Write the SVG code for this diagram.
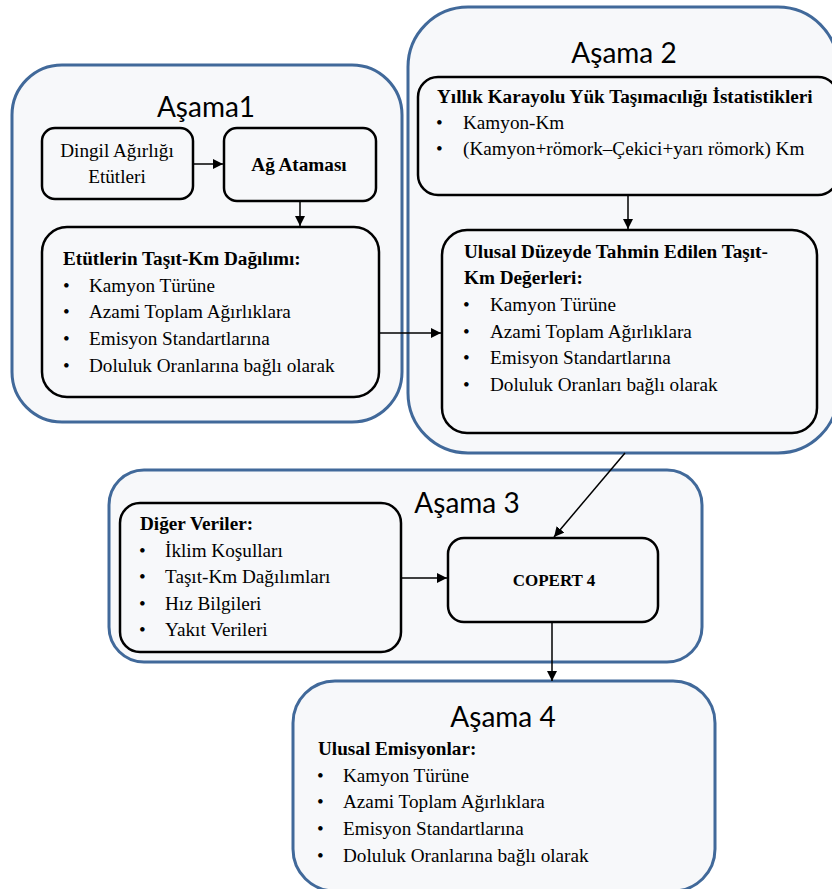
<svg xmlns="http://www.w3.org/2000/svg" width="832" height="889" viewBox="0 0 832 889">
<defs>
<marker id="ah" viewBox="0 0 10 10" refX="10" refY="5" markerWidth="10" markerHeight="10" markerUnits="userSpaceOnUse" orient="auto">
<path d="M0,0 L10,5 L0,10 z" fill="#000"/>
</marker>
<style>
.stage{fill:#F7F8FA;stroke:#41699A;stroke-width:3}
.box{fill:#F7F8FA;stroke:#000;stroke-width:2.5}
.title{font-family:Lato,'Open Sans',sans-serif;font-size:28px;fill:#000}
.t{font-family:'Liberation Serif','DejaVu Serif',serif;font-size:19.2px;fill:#000}
.b{font-family:'Liberation Serif','DejaVu Serif',serif;font-size:19.2px;font-weight:bold;fill:#000}
.conn{stroke:#000;stroke-width:1.5;fill:none;marker-end:url(#ah)}
</style>
</defs>
<g id="stage1">
<rect class="stage" x="12" y="65" width="390" height="357" rx="50"/>
<text class="title" x="206" y="117" text-anchor="middle">Aşama1</text>
</g>
<g id="stage2">
<rect class="stage" x="408" y="7" width="430" height="446" rx="60"/>
<text class="title" x="624" y="63" text-anchor="middle">Aşama 2</text>
</g>
<g id="stage3">
<rect class="stage" x="109" y="470" width="593" height="192" rx="35"/>
<text class="title" x="467" y="513" text-anchor="middle">Aşama 3</text>
</g>
<g id="stage4">
<rect class="stage" x="293" y="681" width="422" height="210" rx="42"/>
<text class="title" x="503" y="727" text-anchor="middle">Aşama 4</text>
<text class="b" x="318" y="755">Ulusal Emisyonlar:</text>
<text class="t" x="317" y="782">•</text><text class="t" x="343" y="782">Kamyon Türüne</text>
<text class="t" x="317" y="808">•</text><text class="t" x="343" y="808">Azami  Toplam Ağırlıklara</text>
<text class="t" x="317" y="835">•</text><text class="t" x="343" y="835">Emisyon Standartlarına</text>
<text class="t" x="317" y="862">•</text><text class="t" x="343" y="862">Doluluk Oranlarına bağlı olarak</text>
</g>
<g id="dingil">
<rect class="box" x="42" y="128" width="151" height="71" rx="13"/>
<text class="t" x="117" y="157" text-anchor="middle">Dingil Ağırlığı</text>
<text class="t" x="117" y="183" text-anchor="middle">Etütleri</text>
</g>
<g id="ag-atamasi">
<rect class="box" x="224" y="128" width="152" height="73" rx="13"/>
<text class="b" x="299" y="171" text-anchor="middle">Ağ Ataması</text>
</g>
<g id="etutler">
<rect class="box" x="42" y="227" width="337" height="170" rx="25"/>
<text class="b" x="63" y="265">Etütlerin  Taşıt-Km Dağılımı:</text>
<text class="t" x="63" y="292">•</text><text class="t" x="89" y="292">Kamyon Türüne</text>
<text class="t" x="63" y="318">•</text><text class="t" x="89" y="318">Azami  Toplam Ağırlıklara</text>
<text class="t" x="63" y="345">•</text><text class="t" x="89" y="345">Emisyon Standartlarına</text>
<text class="t" x="63" y="372">•</text><text class="t" x="89" y="372">Doluluk Oranlarına  bağlı olarak</text>
</g>
<g id="yillik">
<rect class="box" x="418" y="77" width="420" height="118" rx="20"/>
<text class="b" x="437" y="103">Yıllık  Karayolu Yük  Taşımacılığı  İstatistikleri</text>
<text class="t" x="436" y="129">•</text><text class="t" x="463" y="129">Kamyon-Km</text>
<text class="t" x="436" y="155">•</text><text class="t" x="463" y="155">(Kamyon+römork–Çekici+yarı römork) Km</text>
</g>
<g id="ulusal">
<rect class="box" x="442" y="230" width="375" height="203" rx="25"/>
<text class="b" x="464" y="258">Ulusal Düzeyde Tahmin Edilen  Taşıt-</text>
<text class="b" x="464" y="284">Km Değerleri:</text>
<text class="t" x="463" y="311">•</text><text class="t" x="490" y="311">Kamyon Türüne</text>
<text class="t" x="463" y="338">•</text><text class="t" x="490" y="338">Azami  Toplam Ağırlıklara</text>
<text class="t" x="463" y="364">•</text><text class="t" x="490" y="364">Emisyon Standartlarına</text>
<text class="t" x="463" y="391">•</text><text class="t" x="490" y="391">Doluluk Oranları bağlı  olarak</text>
</g>
<g id="diger">
<rect class="box" x="120" y="503" width="281" height="149" rx="20"/>
<text class="b" x="140" y="530">Diğer Veriler:</text>
<text class="t" x="139" y="557">•</text><text class="t" x="165" y="557">İklim Koşulları</text>
<text class="t" x="139" y="583">•</text><text class="t" x="165" y="583">Taşıt-Km Dağılımları</text>
<text class="t" x="139" y="610">•</text><text class="t" x="165" y="610">Hız  Bilgileri</text>
<text class="t" x="139" y="636">•</text><text class="t" x="165" y="636">Yakıt Verileri</text>
</g>
<g id="copert">
<rect class="box" x="448" y="538" width="210" height="84" rx="16"/>
<text class="b" x="554" y="586" text-anchor="middle" style="font-size:17px">COPERT 4</text>
</g>
<g id="connectors">
<line class="conn" x1="193" y1="164" x2="223" y2="164"/>
<line class="conn" x1="300" y1="201" x2="300" y2="226"/>
<line class="conn" x1="379" y1="333" x2="441" y2="333"/>
<line class="conn" x1="628" y1="195" x2="628" y2="229"/>
<line class="conn" x1="625" y1="453" x2="554" y2="537"/>
<line class="conn" x1="401" y1="578" x2="447" y2="578"/>
<line class="conn" x1="552" y1="622" x2="552" y2="681"/>
</g>
</svg>
